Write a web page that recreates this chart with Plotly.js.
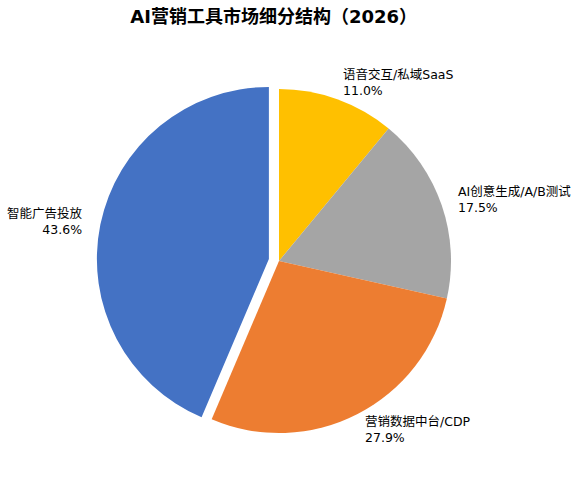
<!DOCTYPE html>
<html>
<head>
<meta charset="utf-8">
<script src="https://cdn.plot.ly/plotly-3.0.1.min.js"></script>
<style>
  html, body { margin: 0; padding: 0; background: #fff; }
  #chart { width: 580px; height: 486px; }
</style>
</head>
<body>
<div id="chart"></div>
<script>
// segment data, in drawing order (clockwise from 12 o'clock)
const segments = ['语音交互/私域SaaS', 'AI创意生成/A/B测试', '营销数据中台/CDP', '智能广告投放'];
const shares = [11.0, 17.5, 27.9, 43.6];
const colors = ['#FFC000', '#A5A5A5', '#ED7D31', '#4472C4'];
const pulls = [0, 0, 0, 0.06];

const W = 580, H = 486;
// pie geometry in pixels
const CX = 279, CY = 261, R = 172;
const maxPull = Math.max(...pulls);
const half = R * (1 + maxPull);

const total = shares.reduce((a, b) => a + b, 0);

// labels sit at 1.1 radius on each slice's mid angle
let cum = 0;
const annotations = shares.map((v, i) => {
    const mid = (cum + v / 2) / total;
    cum += v;
    const ang = Math.PI / 2 - mid * 2 * Math.PI; // clockwise from top
    const dist = R * (1.1 + pulls[i]);
    const px = CX + dist * Math.cos(ang);
    const py = CY - dist * Math.sin(ang);
    const right = px >= CX;
    return {
        x: px / W,
        y: 1 - py / H,
        xref: 'paper',
        yref: 'paper',
        text: segments[i] + '<br>' + (v / total * 100).toFixed(1) + '%',
        showarrow: false,
        xanchor: right ? 'left' : 'right',
        yanchor: 'middle',
        align: right ? 'left' : 'right',
        borderpad: 0,
        borderwidth: 0,
        font: { size: 12.5, color: '#000' }
    };
});

const trace = {
    type: 'pie',
    labels: segments,
    values: shares,
    sort: false,
    direction: 'clockwise',
    rotation: 0,
    pull: pulls,
    marker: { colors: colors, line: { width: 0 } },
    textinfo: 'none',
    hoverinfo: 'label+percent',
    domain: {
        x: [(CX - half) / W, (CX + half) / W],
        y: [1 - (CY + half) / H, 1 - (CY - half) / H]
    }
};

const layout = {
    width: W,
    height: H,
    margin: { l: 0, r: 0, t: 0, b: 0 },
    showlegend: false,
    paper_bgcolor: '#fff',
    font: { family: 'DejaVu Sans, "Noto Sans CJK SC", sans-serif', color: '#000' },
    title: {
        text: '<b>AI营销工具市场细分结构（2026）</b>',
        x: 273.7 / W,
        xanchor: 'center',
        y: 1 - 16.5 / H,
        yanchor: 'middle',
        yref: 'container',
        font: { size: 18, color: '#000', family: 'DejaVu Sans, "Noto Sans CJK SC", sans-serif' }
    },
    annotations: annotations
};

Plotly.newPlot('chart', [trace], layout, { displayModeBar: false, staticPlot: true });
</script>
</body>
</html>
